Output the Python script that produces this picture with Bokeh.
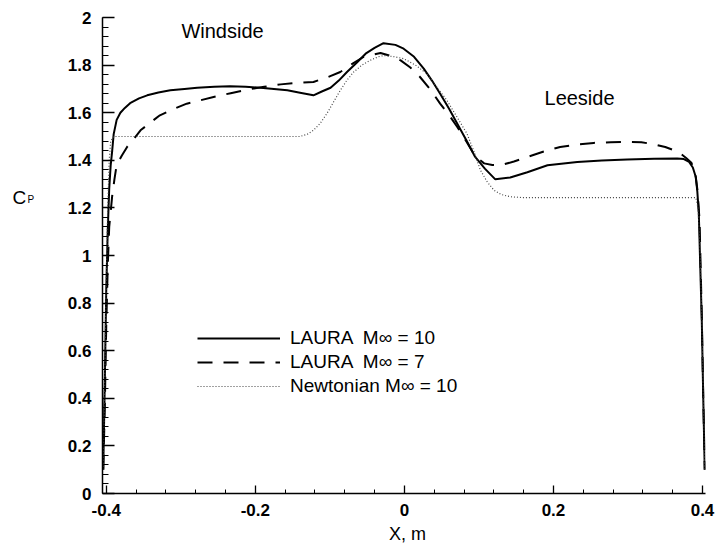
from bokeh.plotting import figure
from bokeh.layouts import row, column
from bokeh.models import Range1d, FixedTicker, Label, Legend, LegendItem
from bokeh.embed import file_html
from bokeh.resources import INLINE

# ---- data ----
solid_x = [-0.404, -0.402, -0.400, -0.398, -0.396, -0.394, -0.392, -0.390, -0.386, -0.381,
           -0.375, -0.368, -0.356, -0.345, -0.330, -0.314, -0.295, -0.278, -0.255, -0.234,
           -0.213, -0.193, -0.175, -0.157, -0.140, -0.122, -0.110, -0.099, -0.088, -0.077,
           -0.064, -0.052, -0.040, -0.028, -0.012, -0.001, 0.013, 0.026, 0.037, 0.048,
           0.060, 0.071, 0.083, 0.095, 0.108, 0.122, 0.142, 0.165, 0.192, 0.232,
           0.265, 0.299, 0.335, 0.366, 0.375, 0.382, 0.387, 0.391, 0.393, 0.395,
           0.397, 0.399, 0.401, 0.403]
solid_y = [0.10, 0.45, 0.85, 1.10, 1.28, 1.38, 1.44, 1.51, 1.57, 1.60,
           1.62, 1.64, 1.66, 1.673, 1.685, 1.694, 1.70, 1.705, 1.709, 1.711,
           1.709, 1.705, 1.70, 1.694, 1.684, 1.673, 1.69, 1.705, 1.735, 1.771,
           1.81, 1.848, 1.872, 1.892, 1.885, 1.869, 1.835, 1.785, 1.735, 1.680,
           1.617, 1.554, 1.485, 1.414, 1.365, 1.320, 1.328, 1.35, 1.379, 1.393,
           1.399, 1.403, 1.406, 1.408, 1.405, 1.393, 1.37, 1.33, 1.27, 1.18,
           0.95, 0.73, 0.40, 0.10]

dash_x = [-0.404, -0.402, -0.400, -0.398, -0.396, -0.392, -0.389, -0.386, -0.379, -0.372,
          -0.363, -0.354, -0.341, -0.328, -0.310, -0.292, -0.274, -0.256, -0.233, -0.211,
          -0.188, -0.166, -0.144, -0.122, -0.104, -0.086, -0.070, -0.055, -0.043, -0.032,
          -0.018, -0.005, 0.008, 0.021, 0.035, 0.048, 0.060, 0.071, 0.082, 0.093,
          0.100, 0.107, 0.118, 0.129, 0.147, 0.165, 0.187, 0.209, 0.231, 0.254,
          0.277, 0.299, 0.318, 0.335, 0.350, 0.362, 0.370, 0.378, 0.385, 0.390,
          0.393, 0.396, 0.399, 0.401, 0.403]
dash_y = [0.10, 0.35, 0.70, 0.95, 1.12, 1.25, 1.32, 1.38, 1.42, 1.456,
          1.49, 1.526, 1.558, 1.589, 1.615, 1.638, 1.652, 1.666, 1.682, 1.697,
          1.709, 1.719, 1.725, 1.729, 1.748, 1.771, 1.805, 1.834, 1.843, 1.851,
          1.838, 1.82, 1.79, 1.750, 1.697, 1.638, 1.59, 1.540, 1.485, 1.428,
          1.405, 1.387, 1.38, 1.379, 1.395, 1.414, 1.437, 1.456, 1.466, 1.473,
          1.476, 1.477, 1.476, 1.467, 1.456, 1.442, 1.43, 1.41, 1.39, 1.35,
          1.28, 1.15, 0.75, 0.40, 0.10]

newt_x = [-0.404, -0.402, -0.400, -0.398, -0.396, -0.394, -0.390, -0.140, -0.130, -0.122,
          -0.113, -0.104, -0.095, -0.086, -0.077, -0.068, -0.057, -0.046, -0.035, -0.028,
          -0.015, -0.001, 0.015, 0.030, 0.043, 0.057, 0.070, 0.084, 0.093, 0.102,
          0.111, 0.120, 0.130, 0.142, 0.160, 0.391, 0.394, 0.397, 0.399, 0.401, 0.403]
newt_y = [0.10, 0.50, 0.90, 1.20, 1.40, 1.48, 1.50, 1.50, 1.51, 1.526,
          1.555, 1.596, 1.645, 1.694, 1.737, 1.771, 1.80, 1.82, 1.835, 1.84,
          1.836, 1.827, 1.80, 1.764, 1.71, 1.652, 1.585, 1.512, 1.44, 1.359,
          1.31, 1.275, 1.256, 1.247, 1.243, 1.243, 1.20, 1.00, 0.73, 0.40, 0.10]

series_names = ["LAURA  M\u221e = 10", "LAURA  M\u221e = 7", "Newtonian M\u221e = 10"]

x_ticks = [-0.4, -0.2, 0.0, 0.2, 0.4]
x_tick_labels = ["-0.4", "-0.2", "0", "0.2", "0.4"]
x_minor = [round(-0.4 + 0.04 * i, 2) for i in range(21)]
y_ticks = [0.0, 0.2, 0.4, 0.6, 0.8, 1.0, 1.2, 1.4, 1.6, 1.8, 2.0]
y_tick_labels = ["0", "0.2", "0.4", "0.6", "0.8", "1", "1.2", "1.4", "1.6", "1.8", "2"]
y_minor = [round(0.04 * i, 2) for i in range(51)]

FONT = "Liberation Sans"

SIDE_W, MAIN_W, MAIN_H, BOTTOM_H = 48, 667, 523, 21

p = figure(width=MAIN_W, height=MAIN_H, output_backend="svg", toolbar_location=None,
           x_range=Range1d(-0.405, 0.404), y_range=Range1d(0, 2),
           min_border_left=54, min_border_right=10, min_border_top=17, min_border_bottom=30)
p.outline_line_color = None
p.xgrid.visible = False
p.ygrid.visible = False

r1 = p.line(solid_x, solid_y, line_color="black", line_width=2)
r2 = p.line(dash_x, dash_y, line_color="black", line_width=2, line_dash="15 11")
r3 = p.line(newt_x, newt_y, line_color="#444444", line_width=1.2, line_dash="1 2")

for ax, ticks, labels, minor, tin, tmin in (
        (p.xaxis[0], x_ticks, x_tick_labels, x_minor, 8, 4),
        (p.yaxis[0], y_ticks, y_tick_labels, y_minor, 12, 6)):
    ax.ticker = FixedTicker(ticks=ticks, minor_ticks=minor)
    ax.major_label_overrides = {t: l for t, l in zip(ticks, labels)}
    ax.major_tick_in = tin
    ax.major_tick_out = 0
    ax.minor_tick_in = tmin
    ax.minor_tick_out = 0
    ax.axis_line_width = 1.5
    ax.major_tick_line_width = 1.3
    ax.minor_tick_line_width = 1.0
    ax.axis_line_color = "black"
    ax.major_label_text_font = FONT
    ax.major_label_text_font_style = "bold"
    ax.major_label_text_font_size = "17px"
    ax.major_label_text_color = "black"
p.xaxis.major_label_standoff = 10
p.yaxis.major_label_standoff = 11

legend = Legend(items=[LegendItem(label=series_names[0], renderers=[r1]),
                       LegendItem(label=series_names[1], renderers=[r2]),
                       LegendItem(label=series_names[2], renderers=[r3])],
                location=(95, 95), glyph_width=83, glyph_height=24, label_height=24,
                spacing=0, padding=0, margin=0, label_standoff=10,
                border_line_color=None, background_fill_alpha=0,
                label_text_font=FONT, label_text_font_size="19px", label_text_color="black")
p.add_layout(legend, "center")


def lab(fig, x, y, text, size, align="center", baseline="middle"):
    fig.add_layout(Label(x=x, y=y, text=text, text_font=FONT, text_font_size=size,
                         text_align=align, text_baseline=baseline, text_color="black"))


lab(p, -0.244, 1.945, "Windside", "20px")
lab(p, 0.235, 1.66, "Leeside", "20px")

# side strip holding the y-axis title C_P (pixel-sized ranges)
side = figure(width=SIDE_W, height=MAIN_H, output_backend="svg", toolbar_location=None,
              x_range=Range1d(0, SIDE_W), y_range=Range1d(0, MAIN_H),
              x_axis_type=None, y_axis_type=None, min_border=0)
side.outline_line_color = None
side.grid.visible = False
lab(side, 12, MAIN_H - 198, "C", "19px", align="left")
lab(side, 27, MAIN_H - 206, "P", "10px", align="left", baseline="bottom")

# bottom strip holding the x-axis title
bottom = figure(width=SIDE_W + MAIN_W, height=BOTTOM_H, output_backend="svg",
                toolbar_location=None, x_range=Range1d(0, SIDE_W + MAIN_W),
                y_range=Range1d(0, BOTTOM_H), x_axis_type=None, y_axis_type=None,
                min_border=0)
bottom.outline_line_color = None
bottom.grid.visible = False
lab(bottom, 407, 10.5, "X, m", "18px")

layout = column(row(side, p, spacing=0), bottom, spacing=0)
open("out.html", "w").write(file_html(layout, INLINE))
